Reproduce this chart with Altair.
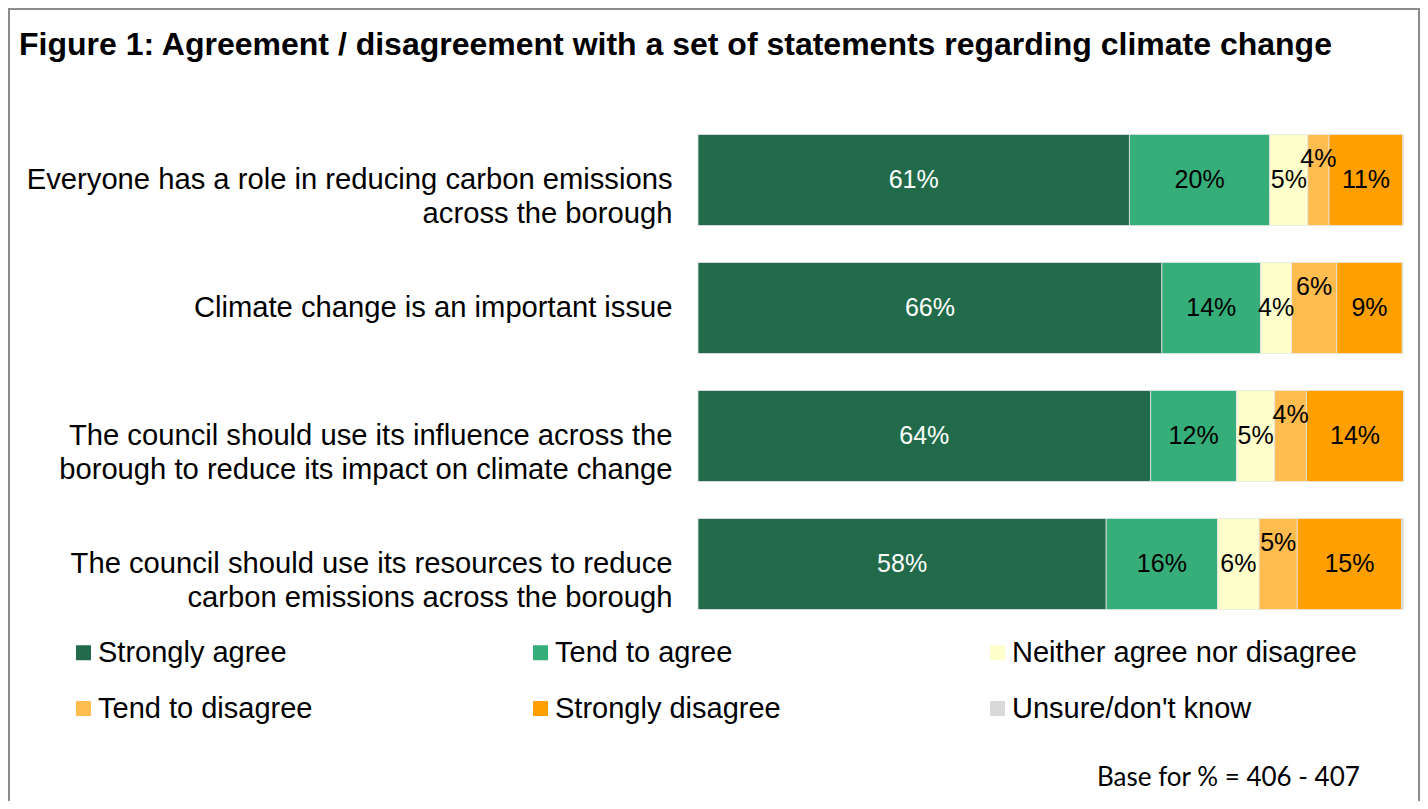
import altair as alt
import pandas as pd

statements = [
    "Everyone has a role in reducing carbon emissions|across the borough",
    "Climate change is an important issue",
    "The council should use its influence across the|borough to reduce its impact on climate change",
    "The council should use its resources to reduce|carbon emissions across the borough",
]
responses = ["Strongly agree", "Tend to agree", "Neither agree nor disagree",
             "Tend to disagree", "Strongly disagree", "Unsure/don't know"]
colors = ["#216b4b", "#36ae7a", "#ffffcc", "#ffbc4f", "#ffa000", "#d9d9d9"]

# bar lengths (percent)
strongly_agree = [61.2, 65.8, 64.2, 57.9]
tend_agree = [19.9, 14.0, 12.2, 15.8]
neither = [5.4, 4.4, 5.4, 5.9]
tend_disagree = [3.0, 6.4, 4.5, 5.4]
strongly_disagree = [10.5, 9.3, 13.8, 14.8]
unsure = [0.0, 0.1, 0.0, 0.3]

# printed data labels
labels_sa = ["61%", "66%", "64%", "58%"]
labels_ta = ["20%", "14%", "12%", "16%"]
labels_n = ["5%", "4%", "5%", "6%"]
labels_td = ["4%", "6%", "4%", "5%"]
labels_sd = ["11%", "9%", "14%", "15%"]
labels_u = ["", "", "", ""]

title_text = "Figure 1: Agreement / disagreement with a set of statements regarding climate change"
base_note = "Base for % = 406 - 407"

series = [strongly_agree, tend_agree, neither, tend_disagree, strongly_disagree, unsure]
label_series = [labels_sa, labels_ta, labels_n, labels_td, labels_sd, labels_u]
text_colors = ["white", "black", "black", "black", "black", "black"]

rows = []
for i, st in enumerate(statements):
    cum = 0.0
    for j, resp in enumerate(responses):
        v = series[j][i]
        rows.append({
            "statement": st, "response": resp, "value": v,
            "start": cum, "end": cum + v, "mid": cum + v / 2,
            "label": label_series[j][i], "tcolor": text_colors[j],
            "order": j,
        })
        cum += v
df = pd.DataFrame(rows)

FONT = "Liberation Sans"

y_enc = alt.Y("statement:N", sort=statements, title=None,
              scale=alt.Scale(paddingInner=0.289, paddingOuter=0.1445),
              axis=alt.Axis(labelExpr="split(datum.label, '|')", labelFont=FONT,
                            labelFontSize=29.2, labelColor="black", labelLineHeight=34,
                            labelPadding=26, ticks=False, tickSize=0, domain=False,
                            labelLimit=0, labelAlign="right", labelBaseline="middle"))
x_scale = alt.Scale(domain=[0, 100])

bars = alt.Chart(df).mark_bar(stroke="#e4e4e4", strokeWidth=0.8).encode(
    y=y_enc,
    x=alt.X("start:Q", scale=x_scale, axis=None),
    x2="end:Q",
    color=alt.Color("response:N", scale=alt.Scale(domain=responses, range=colors),
                    legend=alt.Legend(title=None, orient="none", legendX=-629, legendY=522,
                                      columns=3, direction="horizontal", gridAlign="all",
                                      columnPadding=83, rowPadding=26, symbolType="square",
                                      symbolSize=225, symbolStrokeWidth=0, labelFont=FONT,
                                      labelFontSize=29, labelColor="black", labelOffset=0,
                                      padding=0, labelLimit=0)),
    order="order:Q",
)

text_base = alt.Chart(df).encode(
    y=alt.Y("statement:N", sort=statements, title=None),
    x=alt.X("mid:Q", scale=x_scale, axis=None),
    text="label:N",
    color=alt.Color("tcolor:N", scale=None),
)
texts_main = text_base.transform_filter(
    "datum.label != '' && datum.response != 'Tend to disagree'"
).mark_text(font=FONT, fontSize=25, align="center", baseline="middle")
texts_td = text_base.transform_filter(
    "datum.response == 'Tend to disagree'"
).mark_text(font=FONT, fontSize=25, align="center", baseline="middle", dy=-21)

one = pd.DataFrame({"a": [0]})
frame = alt.Chart(one).mark_rect(filled=False, stroke="#8c8c8c", strokeWidth=2).encode(
    x=alt.value(-689), x2=alt.value(721), y=alt.value(-107), y2=alt.value(720)
)
note = alt.Chart(one).mark_text(font="Lato", fontSize=26, align="left",
                                baseline="alphabetic", color="black").encode(
    x=alt.value(399), y=alt.value(670), text=alt.value(base_note)
)

chart = alt.layer(frame, bars, texts_main, texts_td, note).properties(
    width=705, height=512,
    title=alt.Title(title_text, anchor="start", frame="group", dx=-679, dy=79, offset=0,
                    font=FONT, fontSize=32, fontWeight="bold", color="black",
                    baseline="alphabetic"),
    padding={"left": 690, "top": 108, "right": 17, "bottom": 173},
    autosize=alt.AutoSizeParams(type="none"),
    background="white",
).configure_view(stroke=None)

chart.save("out.html", embed_options={"renderer": "svg", "actions": False})
